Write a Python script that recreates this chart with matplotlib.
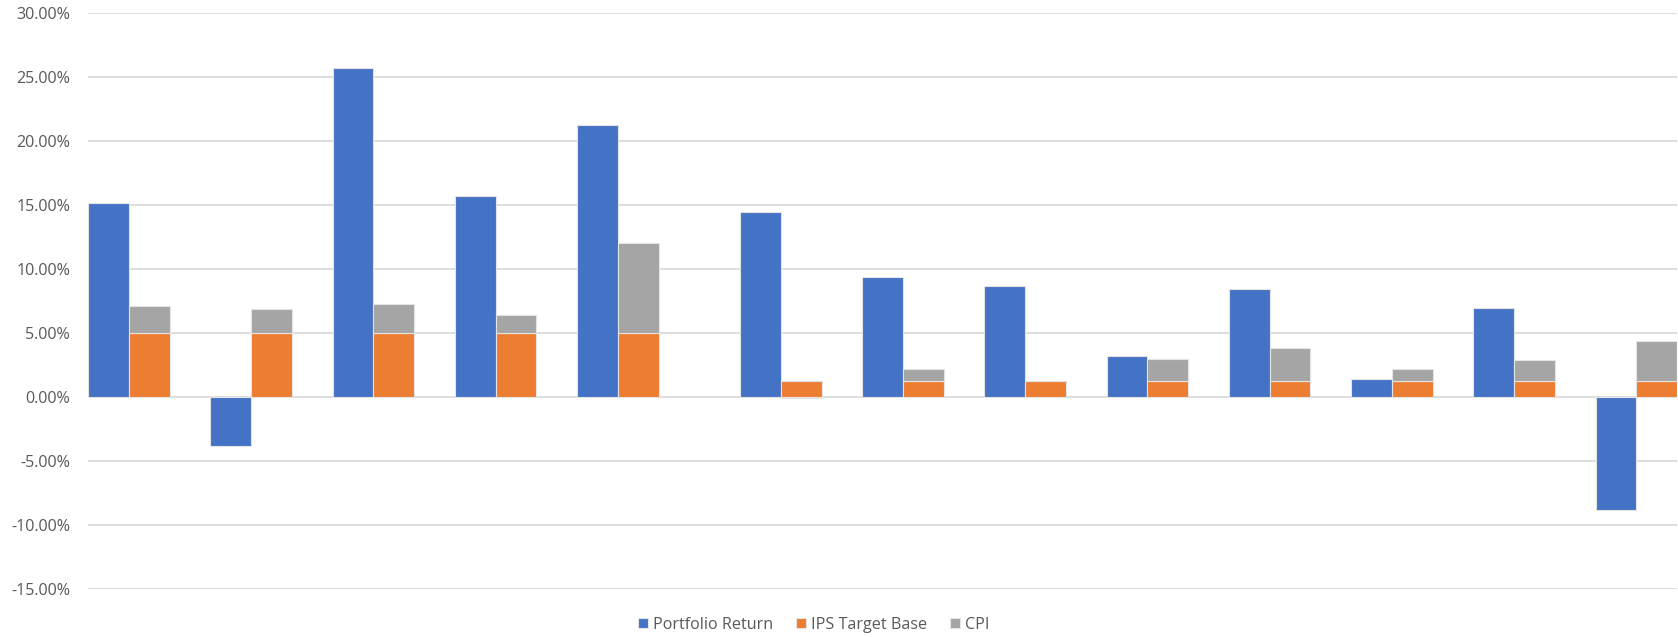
import numpy as np
import matplotlib.pyplot as plt
from matplotlib.ticker import FuncFormatter

# ---------------------------------------
# Data (percent)
# ---------------------------------------

portfolio_return = [15.2, -3.8, 25.7, 15.7, 21.3, 14.45, 9.35, 8.7, 3.25, 8.45, 1.4, 6.95, -8.83]
ips_target_base = [5.0, 5.0, 5.0, 5.0, 5.0, 1.25, 1.25, 1.25, 1.25, 1.25, 1.25, 1.25, 1.25]
cpi = [2.1, 1.9, 2.3, 1.4, 7.05, -0.1, 0.95, 0.0, 1.7, 2.55, 0.95, 1.65, 3.15]

series_names = ['Portfolio Return', 'IPS Target Base', 'CPI']
colors = ['#4472C4', '#ED7D31', '#A5A5A5']

y_ticks = [-15, -10, -5, 0, 5, 10, 15, 20, 25, 30]

# ---------------------------------------
# Layout
# ---------------------------------------

plt.rcParams['font.family'] = ['Open Sans', 'DejaVu Sans']
text_color = '#595959'
grid_color = '#D9D9D9'

n = len(portfolio_return)
idx = np.arange(n)
# three bar widths per group, one extra slot after the fifth group
left = 3 * idx + (idx >= 5)
x_blue = left + 0.5
x_right = left + 1.5

fig = plt.figure(figsize=(16.78, 6.37), dpi=100)
ax = fig.add_axes([0.0526, 0.0754, 0.9468, 0.9037])

edge = dict(edgecolor='#E4E4E4', linewidth=0.8)

ax.bar(x_blue, portfolio_return, width=1.0, color=colors[0],
       label=series_names[0], zorder=3, **edge)
ax.bar(x_right, ips_target_base, width=1.0, color=colors[1],
       label=series_names[1], zorder=3, **edge)

# CPI stacked on top of the target; negatives hang from zero
cpi_arr = np.array(cpi)
cpi_bottom = np.where(cpi_arr >= 0, np.array(ips_target_base), 0.0)
ax.bar(x_right, cpi_arr, bottom=cpi_bottom, width=1.0, color=colors[2],
       label=series_names[2], zorder=3, **edge)

ax.set_xlim(0, 39)
ax.set_ylim(-15, 30)
ax.set_yticks(y_ticks)
ax.yaxis.set_major_formatter(FuncFormatter(lambda v, _: f'{v:.2f}%'))
ax.set_xticks([])

ax.grid(axis='y', color=grid_color, linewidth=1.2, zorder=0)
ax.set_axisbelow(True)
for s in ax.spines.values():
    s.set_visible(False)

ax.tick_params(axis='y', length=0, pad=13, labelsize=11.6, labelcolor=text_color)

fig.legend(
    loc='center',
    bbox_to_anchor=(0.485, 0.019),
    ncol=3,
    frameon=False,
    fontsize=11.6,
    labelcolor=text_color,
    handlelength=0.6,
    handleheight=0.6,
    handletextpad=0.35,
    columnspacing=1.4,
)

plt.savefig('out.png', dpi=100)
